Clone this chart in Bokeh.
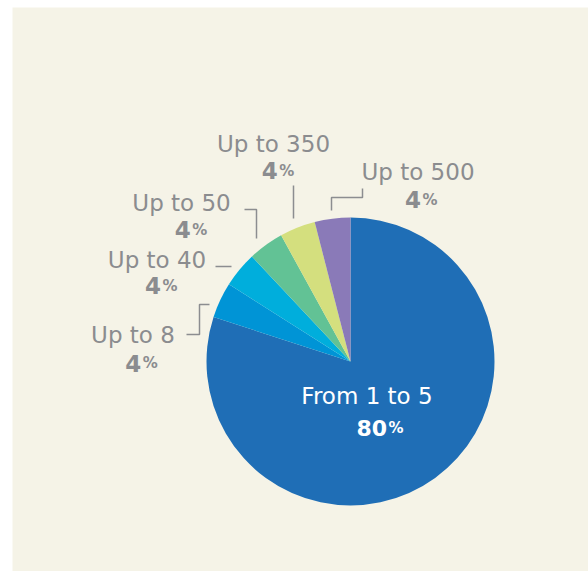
import math
from bokeh.plotting import figure
from bokeh.models import Range1d, ColumnDataSource
from bokeh.core.properties import value
from bokeh.embed import file_html
from bokeh.resources import INLINE

# ---- data ----
categories = ["From 1 to 5", "Up to 8", "Up to 40", "Up to 50", "Up to 350", "Up to 500"]
shares = [80, 4, 4, 4, 4, 4]
colors = ["#1f6eb6", "#0094d6", "#00aedc", "#62c295", "#d4df7e", "#8a7ab8"]

# ---- layout (page pixel coordinates) ----
W, H = 588, 571
def Y(py):
    return H - py

TXT_SHIFT = 9  # baseline correction for text glyphs
cx, cy, R = 350, 361, 144
name_pos = [(366.5, 404.3), (132.5, 343.3), (156.5, 268.3), (181.0, 211.7), (273.0, 152.0), (417.5, 180.7)]
pct_pos = [(387.0, 436.7), (141.3, 371.7), (161.0, 294.3), (190.7, 238.3), (277.7, 179.0), (421.0, 208.3)]
leaders = [
    None,
    [(186, 334), (199, 334), (199, 304), (209, 304)],
    [(215, 266), (231, 266)],
    [(244, 209), (256, 209), (256, 238)],
    [(293, 185), (293, 218)],
    [(331, 210), (331, 197), (362, 197), (362, 188)],
]
text_gray = "#8b8c8f"
FONT = "DejaVu Sans"

p = figure(width=W, height=H, output_backend="svg", toolbar_location=None,
           x_range=Range1d(0, W), y_range=Range1d(0, H),
           x_axis_type=None, y_axis_type=None, min_border=0)
p.outline_line_color = None
p.grid.visible = False
p.background_fill_color = "white"
p.border_fill_color = "white"

# cream panel
p.quad(left=[12], right=[W], bottom=[0], top=[Y(7)], fill_color="#f5f3e7", line_color=None)

# pie
total = sum(shares)
starts, ends = [], []
cum = 0
for s in shares:
    starts.append(math.pi / 2 - cum / total * 2 * math.pi)
    cum += s
    ends.append(math.pi / 2 - cum / total * 2 * math.pi)
src = ColumnDataSource(dict(start=starts, end=ends, color=colors))
p.wedge(x=cx, y=Y(cy), radius=R, start_angle="start", end_angle="end",
        direction="clock", fill_color="color", line_color=None, source=src)

# leader lines
xs, ys = [], []
for path in leaders:
    if path is None:
        continue
    xs.append([a for a, b in path])
    ys.append([Y(b) for a, b in path])
p.multi_line(xs=xs, ys=ys, line_color="#8c8d90", line_width=1.5)

# labels
for i, cat in enumerate(categories):
    col = "white" if i == 0 else text_gray
    nx, ny = name_pos[i]
    p.text(x=[nx], y=[Y(ny - TXT_SHIFT)], text=[cat], text_font=value(FONT),
           text_font_size="23px", text_color=col, text_align="center",
           text_baseline="alphabetic")
    px, py = pct_pos[i]
    big = "22px" if i == 0 else "23px"
    p.text(x=[px - 0.5], y=[Y(py - TXT_SHIFT)], text=[str(shares[i])], text_font=value(FONT),
           text_font_size=big, text_font_style="bold", text_color=col,
           text_align="right", text_baseline="alphabetic")
    p.text(x=[px + 1], y=[Y(py - TXT_SHIFT)], text=["%"], text_font=value(FONT),
           text_font_size="15px", text_font_style="bold", text_color=col,
           text_align="left", text_baseline="alphabetic")

open("out.html", "w").write(file_html(p, INLINE))
